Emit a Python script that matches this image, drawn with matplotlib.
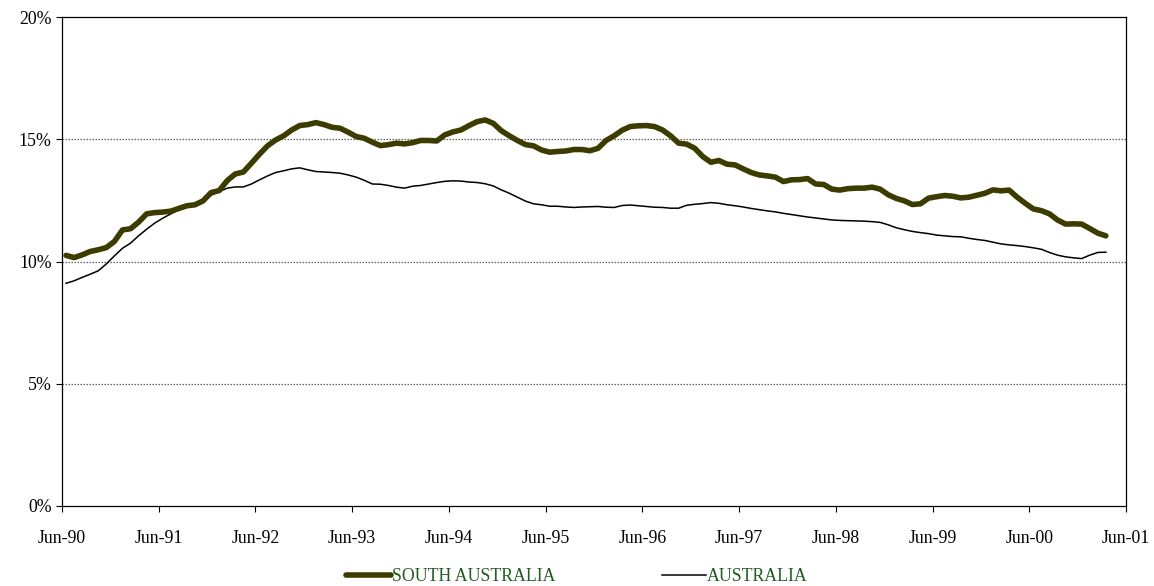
import matplotlib
matplotlib.use("Agg")
import matplotlib.pyplot as plt
from matplotlib.ticker import FuncFormatter

# Monthly trend unemployment rate (%), June 1990 to March 2001
south_australia = [
    10.25, 10.16, 10.27, 10.41, 10.48, 10.57, 10.82, 11.29, 11.34, 11.61,
    11.95, 12.00, 12.02, 12.06, 12.17, 12.28, 12.32, 12.48, 12.82, 12.90,
    13.31, 13.58, 13.66, 14.02, 14.39, 14.73, 14.97, 15.14, 15.38, 15.56,
    15.60, 15.68, 15.60, 15.49, 15.45, 15.29, 15.11, 15.04, 14.88, 14.74,
    14.78, 14.84, 14.81, 14.86, 14.95, 14.95, 14.93, 15.18, 15.30, 15.38,
    15.56, 15.72, 15.79, 15.65, 15.35, 15.14, 14.95, 14.78, 14.73, 14.56,
    14.47, 14.50, 14.52, 14.58, 14.58, 14.53, 14.63, 14.95, 15.14, 15.37,
    15.52, 15.55, 15.56, 15.52, 15.38, 15.14, 14.84, 14.80, 14.63, 14.29,
    14.06, 14.13, 13.98, 13.95, 13.79, 13.64, 13.54, 13.50, 13.45, 13.27,
    13.34, 13.35, 13.39, 13.17, 13.15, 12.96, 12.92, 12.98, 13.00, 13.00,
    13.04, 12.96, 12.73, 12.58, 12.48, 12.33, 12.36, 12.59, 12.65, 12.70,
    12.67, 12.60, 12.63, 12.71, 12.79, 12.93, 12.89, 12.92, 12.63, 12.38,
    12.15, 12.08, 11.95, 11.70, 11.53, 11.54, 11.53, 11.35, 11.16, 11.05,
]

australia = [
    9.11, 9.21, 9.35, 9.48, 9.62, 9.90, 10.23, 10.54, 10.75, 11.05,
    11.32, 11.57, 11.77, 11.95, 12.11, 12.25, 12.38, 12.55, 12.71, 12.86,
    13.00, 13.05, 13.05, 13.17, 13.34, 13.50, 13.64, 13.71, 13.79, 13.83,
    13.75, 13.68, 13.66, 13.64, 13.61, 13.54, 13.45, 13.32, 13.17, 13.16,
    13.11, 13.04, 13.00, 13.08, 13.11, 13.17, 13.23, 13.28, 13.30, 13.29,
    13.25, 13.23, 13.18, 13.09, 12.93, 12.79, 12.63, 12.47, 12.36, 12.32,
    12.26, 12.26, 12.23, 12.21, 12.23, 12.24, 12.25, 12.22, 12.21, 12.29,
    12.31, 12.28, 12.25, 12.22, 12.21, 12.18, 12.18, 12.30, 12.34, 12.37,
    12.41, 12.38, 12.32, 12.28, 12.23, 12.17, 12.12, 12.07, 12.03, 11.97,
    11.92, 11.87, 11.82, 11.78, 11.74, 11.70, 11.68, 11.67, 11.66, 11.65,
    11.63, 11.60, 11.50, 11.38, 11.30, 11.23, 11.18, 11.14, 11.08, 11.05,
    11.02, 11.01, 10.95, 10.90, 10.86, 10.79, 10.72, 10.68, 10.65, 10.61,
    10.56, 10.50, 10.37, 10.26, 10.19, 10.15, 10.12, 10.26, 10.37, 10.38,
]

tick_labels = ["Jun-90", "Jun-91", "Jun-92", "Jun-93", "Jun-94", "Jun-95",
               "Jun-96", "Jun-97", "Jun-98", "Jun-99", "Jun-00", "Jun-01"]
y_ticks = [0, 5, 10, 15, 20]

plt.rcParams["font.family"] = ["Liberation Serif", "DejaVu Serif"]

fig = plt.figure(figsize=(11.54, 5.86), dpi=100)
ax = fig.add_axes([62 / 1154, 80 / 586, 1064 / 1154, 489 / 586])

# each month sits in the middle of its category slot
months = [i + 0.5 for i in range(len(south_australia))]

ax.plot(months, south_australia, color="#3c3c00", lw=4.0,
        solid_joinstyle="round", solid_capstyle="round",
        label="SOUTH AUSTRALIA", zorder=3)
ax.plot(months[:len(australia)], australia, color="black", lw=1.1,
        label="AUSTRALIA", zorder=2)

ax.set_xlim(0, 12 * (len(tick_labels) - 1))
ax.set_ylim(0, 20)
ax.set_xticks([12 * i for i in range(len(tick_labels))])
ax.set_xticklabels(tick_labels)
ax.set_yticks(y_ticks)
ax.yaxis.set_major_formatter(FuncFormatter(lambda v, _: f"{v:.0f}%"))

for y in y_ticks[1:-1]:
    ax.axhline(y, color="#606060", lw=0.9, ls=(0, (1.2, 1.2)), zorder=1)

for side in ("left", "bottom", "right", "top"):
    ax.spines[side].set_color("black")
    ax.spines[side].set_linewidth(0.9)

ax.tick_params(axis="x", direction="out", length=4.5, width=0.8,
               pad=12.5, labelsize=12.8, colors="black")
ax.tick_params(axis="y", direction="out", length=4.5, width=0.8,
               pad=3, labelsize=12.8, colors="black")

leg = fig.legend(loc="lower center", bbox_to_anchor=(0.5, -0.026), ncol=2,
                 frameon=False, fontsize=12.8, handlelength=2.5,
                 handletextpad=0.05, columnspacing=6.0)
for text in leg.get_texts():
    text.set_color("#1f5a1f")

fig.savefig("out.png", dpi=100)
